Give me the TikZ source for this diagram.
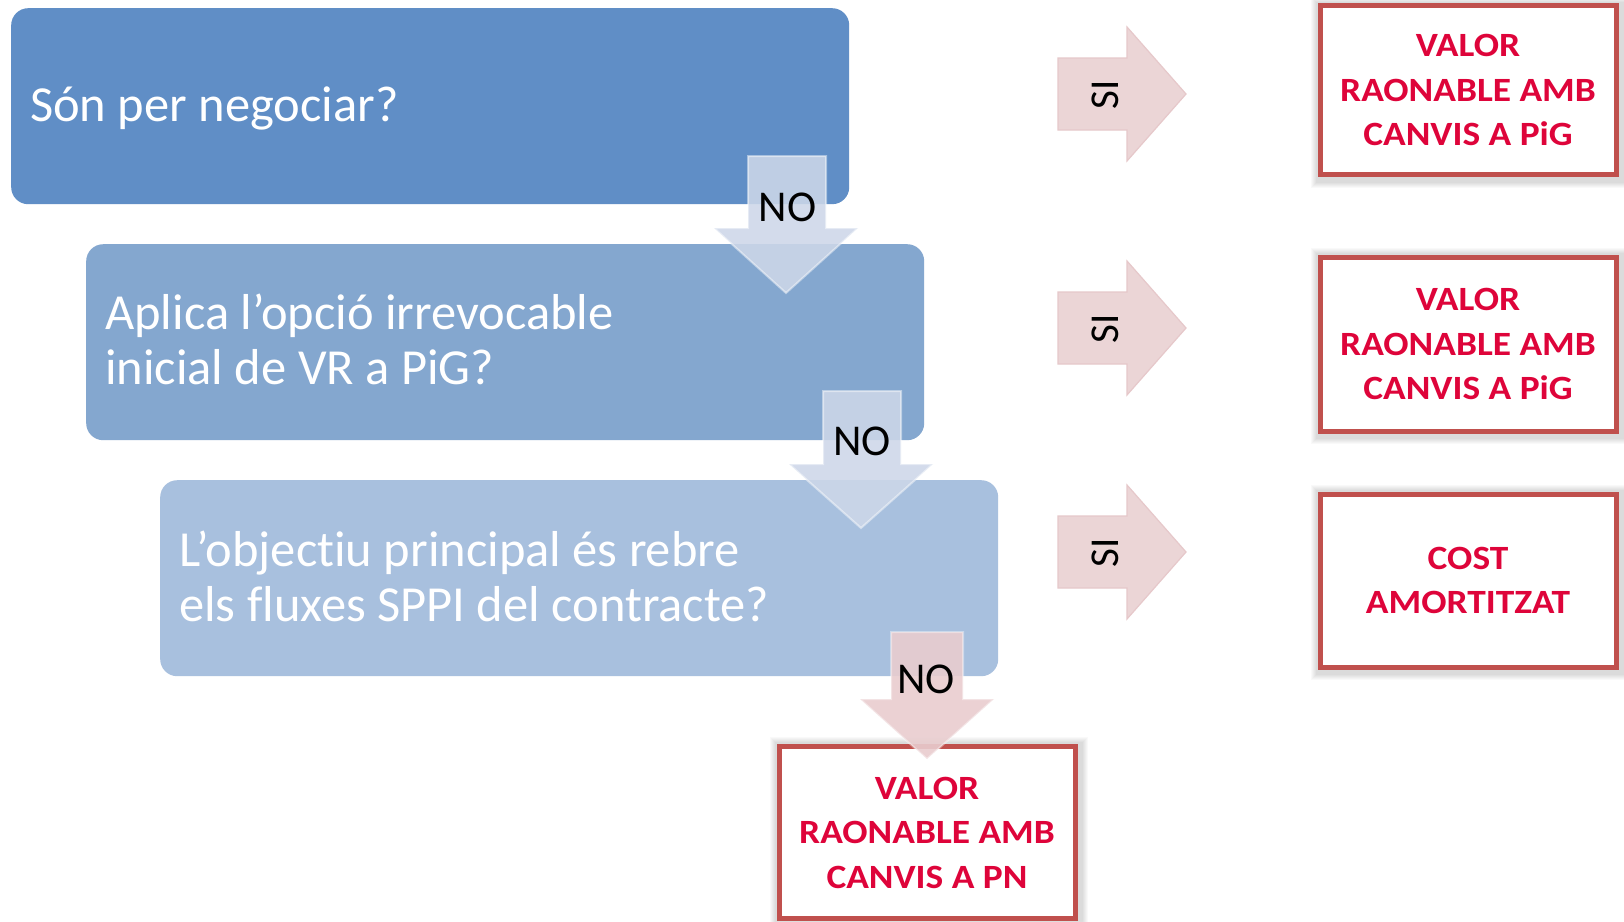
\documentclass[tikz,border=0pt]{standalone}
\usepackage{fontspec}
\setmainfont{Carlito}[Ligatures=NoCommon]
\newfontfamily\redfont{Carlito}[FakeStretch=1.10, Ligatures=NoCommon]
\usetikzlibrary{backgrounds}
\definecolor{qone}{RGB}{96,142,198}
\definecolor{qtwo}{RGB}{132,167,207}
\definecolor{qthree}{RGB}{168,192,222}
\definecolor{noblue}{RGB}{205,215,233}
\definecolor{nopink}{RGB}{233,205,207}
\definecolor{sipink}{RGB}{235,213,214}
\definecolor{siline}{RGB}{230,200,202}
\definecolor{redline}{RGB}{192,80,77}
\definecolor{redtext}{RGB}{222,4,58}
\tikzset{
  qbox/.style={rounded corners=17pt, inner sep=0pt, minimum width=838pt, minimum height=196pt, anchor=north west},
  qtext/.style={text=white, font=\fontsize{50.5}{55}\selectfont, align=left, inner sep=0pt, anchor=west},
  resbox/.style={draw=redline, line width=5pt, fill=white, inner sep=0pt, minimum width=296pt,
    text=redtext, font=\redfont\fontsize{34}{44.5}\selectfont\bfseries, align=center},
  noarrow/.style={fill=noblue, fill opacity=0.88, draw=white, draw opacity=0.45, line width=2pt, line join=miter},
  pinkarrow/.style={fill=nopink, fill opacity=0.9, draw=white, draw opacity=0.4, line width=2pt},
  siarrow/.style={fill=sipink, draw=siline, line width=1.2pt},
  notext/.style={font=\fontsize{44}{44}\selectfont, text=black, inner sep=0pt},
  sitext/.style={font=\fontsize{41}{41}\selectfont, text=black, inner sep=0pt, rotate=90},
  shadowline/.style={black, opacity=0.025}
}
\begin{document}
\begin{tikzpicture}[x=1pt,y=-1pt]
\useasboundingbox (0,0) rectangle (1624,921);
\begin{pgfonlayer}{background}
\fill[white] (0,0) rectangle (1624,921);
\end{pgfonlayer}

% question boxes
\node[qbox, fill=qone] (q1) at (11,8) {};
\node[qbox, fill=qtwo] (q2) at (86,244) {};
\node[qbox, fill=qthree] (q3) at (160,480) {};

% result boxes
\node[resbox, minimum height=169pt] (r1) at (1468,90) {VALOR\\RAONABLE AMB\\CANVIS A PiG};
\node[resbox, minimum height=174pt] (r2) at (1468,344) {VALOR\\RAONABLE AMB\\CANVIS A PiG};
\node[resbox, minimum height=173pt] (r3) at (1468,580.5) {COST\\AMORTITZAT};
\node[resbox, minimum height=172.5pt] (r4) at (927,832.7) {VALOR\\RAONABLE AMB\\CANVIS A PN};

\begin{pgfonlayer}{background}
\foreach \n in {r1,r2,r3,r4}{
  \foreach \w in {7,9,11,13,15,17}{
    \draw[shadowline, line width=\w pt] ([shift={(1.5,2)}]\n.north west) rectangle ([shift={(1.5,2)}]\n.south east);
  }
}
\end{pgfonlayer}

% NO arrows
\draw[noarrow] (748,156) -- (826,156) -- (826,228) -- (858,228) -- (786,293) -- (714,228) -- (748,228) -- cycle;
\draw[noarrow] (823,391) -- (901,391) -- (901,464) -- (933,464) -- (861,528) -- (789,464) -- (823,464) -- cycle;
\draw[pinkarrow] (891,632) -- (963,632) -- (963,699) -- (994,699) -- (927,759) -- (860,699) -- (891,699) -- cycle;

% SI arrows
\foreach \c in {94,328,552}{
  \draw[siarrow] (1058,\c-36) -- (1127,\c-36) -- (1127,\c-67) -- (1186,\c) -- (1127,\c+67) -- (1127,\c+36) -- (1058,\c+36) -- cycle;
}

% texts
\node[qtext] (t1) at ([xshift=19pt,yshift=-2pt]q1.west) {Són per negociar?};
\node[qtext] (t2) at ([xshift=19pt,yshift=3pt]q2.west) {Aplica l’opció irrevocable\\inicial de VR a PiG?};
\node[qtext] (t3) at ([xshift=19pt,yshift=2pt]q3.west) {L’objectiu principal és rebre\\els fluxes SPPI del contracte?};

\node[notext] (n1) at (787.5,207.5) {NO};
\node[notext] (n2) at (862,441) {NO};
\node[notext] (n3) at (926,679) {NO};

\node[sitext] (s1) at (1105.5,95) {SI};
\node[sitext] (s2) at (1105.5,329) {SI};
\node[sitext] (s3) at (1105.5,553) {SI};
\end{tikzpicture}
\end{document}
